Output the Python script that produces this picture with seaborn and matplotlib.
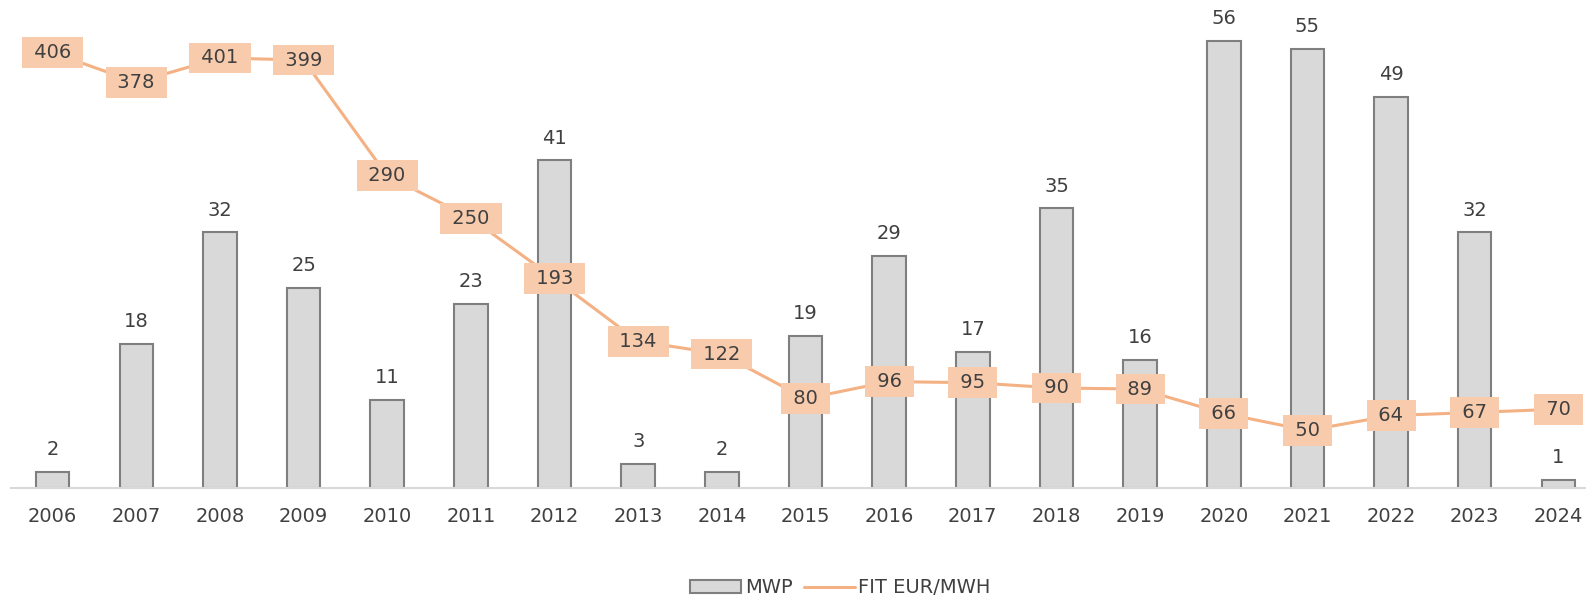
import numpy as np
import pandas as pd
import matplotlib
matplotlib.use('Agg')
import matplotlib.pyplot as plt
from matplotlib.patches import Patch
from matplotlib.lines import Line2D
import seaborn as sns

sns.set_style('white')
plt.rcParams['font.family'] = ['DejaVu Sans']

# dados
years = ['2006', '2007', '2008', '2009', '2010', '2011', '2012', '2013', '2014', '2015',
         '2016', '2017', '2018', '2019', '2020', '2021', '2022', '2023', '2024']
mwp = [2, 18, 32, 25, 11, 23, 41, 3, 2, 19, 29, 17, 35, 16, 56, 55, 49, 32, 1]
fit = [406, 378, 401, 399, 290, 250, 193, 134, 122, 80, 96, 95, 90, 89, 66, 50, 64, 67, 70]

df = pd.DataFrame({'ano': years, 'MWP': mwp, 'FIT': fit, 'pos': np.arange(len(years))})

txt = '#404040'
bar_fill = '#d9d9d9'
bar_edge = '#7f7f7f'
line_c = '#f4b183'
box_c = '#f8cbad'

fig = plt.figure(figsize=(15.86, 5.97), dpi=100)
ax = fig.add_axes([0.0068, 0.183, 0.9932, 0.817])

sns.barplot(data=df, x='ano', y='MWP', ax=ax, color=bar_fill, saturation=1,
            width=0.4, edgecolor=bar_edge, linewidth=1.5)
ax.set_xlim(-0.5, 18.33)
ax.set_ylim(0, 61.1)

for i, v in enumerate(mwp):
    ax.text(i, v + 1.6, str(v), ha='center', va='bottom', fontsize=14, color=txt)

ax.set_xlabel('')
ax.set_ylabel('')
ax.set_yticks([])
ax.tick_params(axis='x', length=0, pad=14, labelsize=14, labelcolor=txt)
for s in ['top', 'right', 'left']:
    ax.spines[s].set_visible(False)
ax.spines['bottom'].set_color('#d9d9d9')
ax.spines['bottom'].set_linewidth(1.5)

ax2 = ax.twinx()
sns.lineplot(data=df, x='pos', y='FIT', ax=ax2, color=line_c, linewidth=2.2)
ax2.set_ylim(-4, 455.6)
ax2.set_xlim(-0.5, 18.33)
ax2.axis('off')

for i, v in enumerate(fit):
    ax2.text(i, v, ' ' + str(v) + ' ', ha='center', va='center', fontsize=14, color=txt,
             bbox=dict(boxstyle='square,pad=0.3', fc=box_c, ec='none'))

handles = [Patch(facecolor=bar_fill, edgecolor=bar_edge, linewidth=1.5, label='MWP'),
           Line2D([0], [0], color=line_c, linewidth=2.2, label='FIT EUR/MWH')]
fig.legend(handles=handles, loc='lower center', bbox_to_anchor=(0.53, -0.03), ncol=2,
           frameon=False, fontsize=14, labelcolor=txt, handlelength=2.6,
           columnspacing=0.6, handletextpad=0.2)

fig.savefig('out.png', dpi=100)
